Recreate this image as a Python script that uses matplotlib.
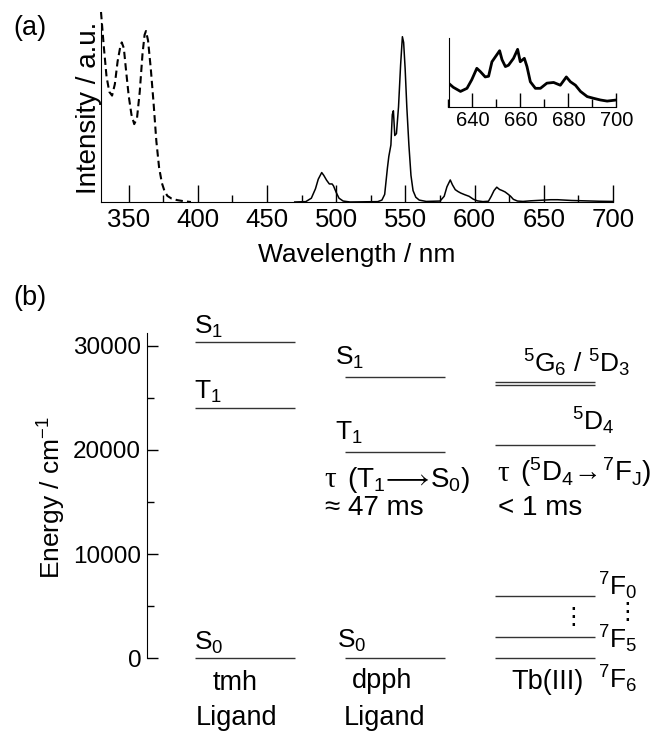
import numpy as np
import matplotlib
matplotlib.use("Agg")
import matplotlib.pyplot as plt
from matplotlib.ticker import MultipleLocator

plt.rcParams["font.family"] = ["Liberation Sans", "DejaVu Sans"]
plt.rcParams["mathtext.fontset"] = "custom"
plt.rcParams["mathtext.rm"] = "Liberation Sans"
plt.rcParams["mathtext.it"] = "Liberation Sans:italic"
plt.rcParams["mathtext.fallback"] = "stixsans"
plt.rcParams["mathtext.default"] = "regular"

# ---- (a) spectra, normalised intensity ----
exc_nm = [330, 332, 334, 336, 338, 340, 342, 344, 345, 346.5, 348, 350, 352, 354,
          356, 358, 360, 361.5, 362.5, 364, 366, 368, 370, 372, 374, 376, 378,
          381, 385, 390, 395]
exc_int = [1.00, 0.82, 0.66, 0.58, 0.56, 0.62, 0.74, 0.82, 0.84, 0.81, 0.70, 0.56,
           0.46, 0.41, 0.44, 0.58, 0.78, 0.88, 0.90, 0.85, 0.70, 0.52, 0.32, 0.18,
           0.10, 0.055, 0.032, 0.018, 0.010, 0.004, 0.0]

em_nm = [470, 478, 482, 485, 487, 489.5, 491, 493, 495, 497, 498, 500, 502, 505,
         510, 530, 533, 535, 537, 538, 539.5, 540.5, 541.3, 542.3, 543.5, 545,
         546.5, 547.8, 548.7, 549.8, 551, 552.5, 554, 555.5, 557.5, 560, 565,
         575, 578, 580, 582.4, 584, 586, 588, 590, 593, 596, 599, 602, 606,
         610, 612, 614, 616, 618, 620, 622, 624, 626, 628, 631, 635, 640, 645,
         650, 655, 660, 665, 670, 680, 690, 700]
em_int = [0.0, 0.002, 0.02, 0.07, 0.12, 0.155, 0.14, 0.115, 0.095, 0.095, 0.085,
          0.05, 0.02, 0.005, 0.0, 0.002, 0.01, 0.04, 0.18, 0.24, 0.30, 0.46, 0.48,
          0.35, 0.36, 0.50, 0.72, 0.87, 0.84, 0.70, 0.50, 0.30, 0.14, 0.06, 0.025,
          0.01, 0.003, 0.005, 0.03, 0.08, 0.116, 0.09, 0.065, 0.055, 0.047, 0.038,
          0.03, 0.015, 0.006, 0.002, 0.004, 0.03, 0.06, 0.078, 0.066, 0.06, 0.053,
          0.042, 0.03, 0.014, 0.005, 0.003, 0.006, 0.008, 0.01, 0.012, 0.012,
          0.01, 0.008, 0.006, 0.004, 0.003]

# inset: 630-700 nm magnified
ins_nm = [630, 632, 635, 637.7, 639.7, 641.8, 643.2, 645.3, 646.7, 648.1, 649.5,
          651.3, 652.3, 653.7, 655, 657.1, 658.8, 659.9, 661.6, 662.7, 664.1,
          666.2, 668.3, 671, 673.8, 676.6, 679.1, 680.8, 682.9, 685, 687.8,
          690.5, 693.3, 696.1, 700]
ins_int = [0.35, 0.29, 0.23, 0.275, 0.40, 0.565, 0.52, 0.44, 0.45, 0.66, 0.73,
           0.82, 0.69, 0.59, 0.61, 0.71, 0.84, 0.66, 0.71, 0.59, 0.37, 0.275,
           0.275, 0.35, 0.36, 0.32, 0.44, 0.37, 0.32, 0.23, 0.155, 0.13, 0.106,
           0.09, 0.106]

# ---- (b) energy levels / cm-1 ----
tmh_levels = [30400, 24000, 0]
dpph_levels = [27000, 19800, 0]
tb_levels = [26500, 26250, 20500, 6000, 2000, 0]

W, H = 654, 731
fig = plt.figure(figsize=(W / 100, H / 100), dpi=100)


def px_axes(x0, y0, x1, y1):
    # rectangle in image pixels (y from top)
    return fig.add_axes([x0 / W, 1 - y1 / H, (x1 - x0) / W, (y1 - y0) / H])


lc = "black"

# ---------------- (a) ----------------
ax = px_axes(101, 12, 613, 202)
ax.plot(exc_nm, exc_int, color=lc, lw=1.5, ls=(0, (3.5, 2)), clip_on=False)
ax.plot(em_nm, em_int, color=lc, lw=1.1)
ax.set_xlim(330, 700)
ax.set_ylim(0, 1)
for s in ("top", "right"):
    ax.spines[s].set_visible(False)
ax.spines["left"].set_bounds(0, 0.94)
ax.set_yticks([])
ax.set_xticks(np.arange(350, 701, 50))
ax.xaxis.set_minor_locator(MultipleLocator(25))
ax.tick_params(axis="x", which="major", direction="in", length=12, width=1,
               labelsize=18.5, pad=4)
ax.tick_params(axis="x", which="minor", direction="in", length=5, width=1)
fig.text(357 / W, 1 - 255 / H, "Wavelength / nm", ha="center", va="center",
         fontsize=19)
fig.text(88.5 / W, 1 - 108 / H, "Intensity / a.u.", ha="center", va="center",
         rotation=90, fontsize=20)
fig.text(30 / W, 1 - 28 / H, "(a)", ha="center", va="center", fontsize=19.5)

axi = px_axes(448.5, 38.3, 616.5, 107.3)
axi.plot(ins_nm, ins_int, color=lc, lw=2.0)
axi.set_xlim(630, 700)
axi.set_ylim(0, 1)
for s in ("top", "right"):
    axi.spines[s].set_visible(False)
axi.set_yticks([])
axi.set_xticks([640, 660, 680, 700])
axi.xaxis.set_minor_locator(MultipleLocator(10))
axi.tick_params(axis="x", which="major", direction="in", length=10, width=1,
                labelsize=14.5, pad=3)
axi.tick_params(axis="x", which="minor", direction="in", length=6, width=1)

# ---------------- (b) ----------------
bx = px_axes(146.7, 333.3, 654, 658.3)
bx.set_xlim(0, 507.3)
bx.set_ylim(0, 31200)
for s in ("top", "right", "bottom"):
    bx.spines[s].set_visible(False)
bx.set_xticks([])
bx.set_yticks([0, 10000, 20000, 30000])
bx.yaxis.set_minor_locator(MultipleLocator(5000))
bx.tick_params(axis="y", which="major", direction="in", length=8, width=1,
               labelsize=17.5, pad=4)
bx.tick_params(axis="y", which="minor", direction="in", length=5, width=1)
fig.text(52 / W, 1 - 497 / H, "Energy / cm$^{-1}$", ha="center", va="center",
         rotation=90, fontsize=19)
fig.text(30 / W, 1 - 298 / H, "(b)", ha="center", va="center", fontsize=19.5)

col_x = [48, 198, 348]
col_w = 100
gray = "#333333"
for x0, levels in zip(col_x, [tmh_levels, dpph_levels, tb_levels]):
    for e in levels:
        bx.plot([x0, x0 + col_w], [e, e], color=gray, lw=1.0, clip_on=False,
                solid_capstyle="butt")

kw = dict(fontsize=19, clip_on=False)
kw2 = dict(fontsize=19.5, clip_on=False)
kt = dict(fontsize=20, clip_on=False, va="baseline")
tau = dict(fontsize=21, clip_on=False, va="baseline", family="Liberation Serif")

# tmh ligand
bx.text(47, tmh_levels[0] + 150, "S$_1$", va="bottom", **kw)
bx.text(47, tmh_levels[1] + 350, "T$_1$", va="bottom", **kw)
bx.text(47, tmh_levels[2] + 200, "S$_0$", va="bottom", **kw)
bx.text(88, -3050, "tmh", ha="center", va="baseline", **kw2)
bx.text(90, -6400, "Ligand", ha="center", va="baseline", **kw2)

# dpph ligand
bx.text(188, dpph_levels[0] + 600, "S$_1$", va="bottom", **kw)
bx.text(188, dpph_levels[1] + 600, "T$_1$", va="bottom", **kw)
bx.text(178, 16470, "τ", **tau)
bx.text(200, 16470, r"(T$_1$$\!\longrightarrow\!$S$_0$)", **kt)
bx.text(178, 13750, "≈ 47 ms", **kt)
bx.text(190, dpph_levels[2] + 400, "S$_0$", va="bottom", **kw)
bx.text(235, -2850, "dpph", ha="center", va="baseline", **kw2)
bx.text(238, -6400, "Ligand", ha="center", va="baseline", **kw2)

# Tb(III)
bx.text(430, 26800, "$^5$G$_6$ / $^5$D$_3$", ha="center", va="bottom", **kw)
bx.text(446, 21200, "$^5$D$_4$", ha="center", va="bottom", **kw)
bx.text(351, 17000, "τ", **tau)
bx.text(373, 17000, r"($^5$D$_4$$\!\rightarrow\!$$^7$F$_J$)", **kt)
bx.text(351, 13750, "< 1 ms", **kt)
bx.text(451, tb_levels[3], "$^7$F$_0$", va="baseline", **kw)
bx.text(451, 990, "$^7$F$_5$", va="baseline", **kw)
bx.text(451, -2850, "$^7$F$_6$", va="baseline", **kw)
bx.text(401, -2900, "Tb(III)", ha="center", va="baseline", **kw2)
bx.text(481, 4400, "⋮", ha="center", va="center", fontsize=17,
        family="DejaVu Sans", clip_on=False)
bx.text(427, 4000, "⋮", ha="center", va="center", fontsize=17,
        family="DejaVu Sans", clip_on=False)

fig.savefig("out.png", dpi=100)
